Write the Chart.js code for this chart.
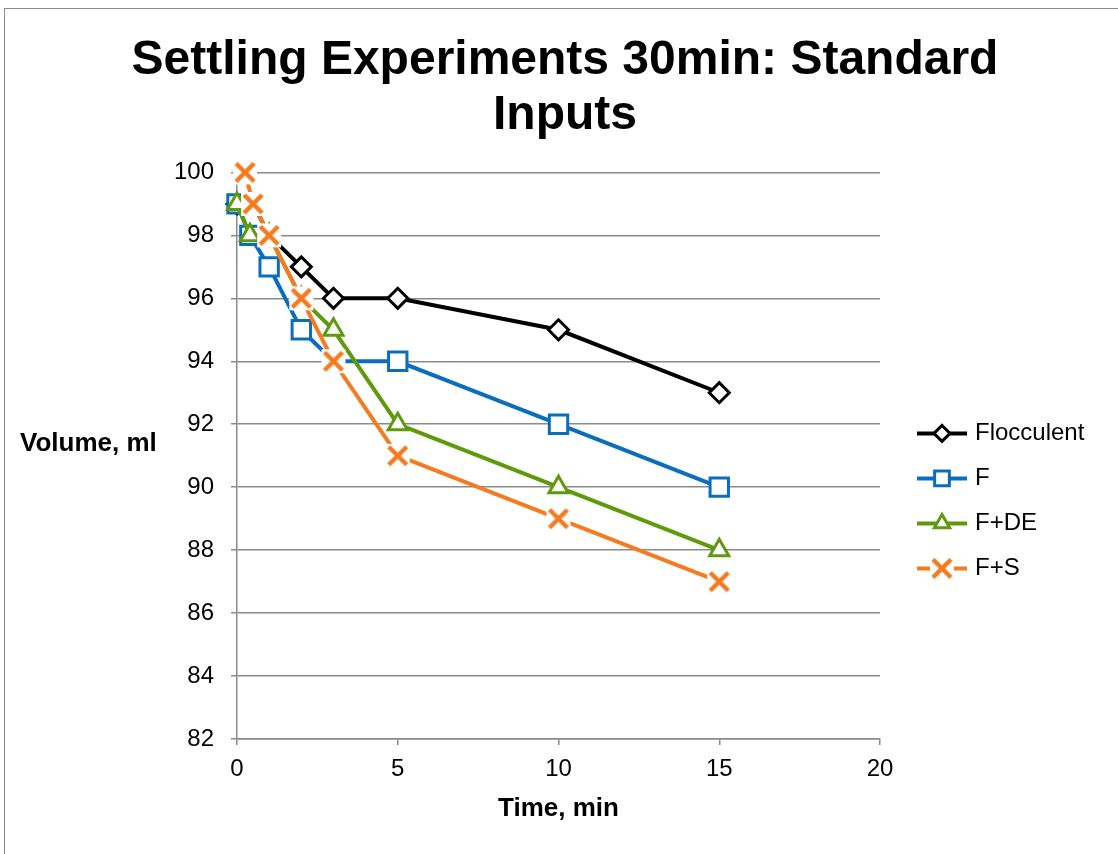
<!DOCTYPE html>
<html>
<head>
<meta charset="utf-8">
<script src="https://cdn.jsdelivr.net/npm/chart.js@4/dist/chart.umd.min.js"></script>
<style>
  html, body { margin: 0; padding: 0; background: #fff; }
  #wrap { width: 1118px; height: 854px; position: relative; }
</style>
</head>
<body>
<div id="wrap"><canvas id="chart" width="1118" height="854"></canvas></div>
<script>
// --- DATA ---
const seriesNames = ['Flocculent', 'F', 'F+DE', 'F+S'];
const floccTime = [0, 0.5, 1, 2, 3, 5, 10, 15];
const floccVolume = [99, 99, 98, 97, 96, 96, 95, 93];
const fTime = [0, 0.4, 1, 2, 3, 5, 10, 15];
const fVolume = [99, 98, 97, 95, 94, 94, 92, 90];
const fdeTime = [0, 0.4, 1, 2, 3, 5, 10, 15];
const fdeVolume = [99, 98, 98, 96, 95, 92, 90, 88];
const fsTime = [0.25, 0.5, 1, 2, 3, 5, 10, 15];
const fsVolume = [100, 99, 98, 96, 94, 91, 89, 87];
const xTicks = [0, 5, 10, 15, 20];
const yTicks = [82, 84, 86, 88, 90, 92, 94, 96, 98, 100];

// --- STYLE ---
const FONT = '"Liberation Sans", Arial, sans-serif';
const colors = ['#000000', '#0A6EBD', '#5E9A0C', '#F47B20'];
const markerSizes = [10, 13, 11, 13];
const markerBorders = [3, 3, 3, 4];

// Excel-like "x" marker: cross on a small white square
function crossMarker(color, size) {
    const c = document.createElement('canvas');
    c.width = size; c.height = size;
    const g = c.getContext('2d');
    g.fillStyle = '#fff';
    g.fillRect(1, 1, size - 2, size - 2);
    g.strokeStyle = color;
    g.lineWidth = 4.5;
    g.beginPath();
    g.moveTo(4, 4); g.lineTo(size - 4, size - 4);
    g.moveTo(size - 4, 4); g.lineTo(4, size - 4);
    g.stroke();
    return c;
}
const markers = ['rectRot', 'rect', 'triangle', crossMarker(colors[3], 26)];

const times = [floccTime, fTime, fdeTime, fsTime];
const volumes = [floccVolume, fVolume, fdeVolume, fsVolume];

function toPoints(xs, ys) {
    return xs.map((x, i) => ({ x: x, y: ys[i] }));
}

const datasets = seriesNames.map((name, i) => ({
    label: name,
    data: toPoints(times[i], volumes[i]),
    showLine: true,
    clip: false,
    borderColor: colors[i],
    borderWidth: 4,
    pointStyle: markers[i],
    pointRadius: markerSizes[i],
    pointHoverRadius: markerSizes[i],
    pointBorderWidth: markerBorders[i],
    pointBackgroundColor: '#fff',
    pointBorderColor: colors[i],
    order: seriesNames.length - 1 - i
}));

// frame around the chart + horizontal y-axis title
const framePlugin = {
    id: 'frame',
    beforeDraw(chart) {
        const ctx = chart.ctx;
        ctx.save();
        ctx.fillStyle = '#fff';
        ctx.fillRect(0, 0, chart.width, chart.height);
        ctx.strokeStyle = '#8a8a8a';
        ctx.lineWidth = 1;
        ctx.strokeRect(4.5, 8.5, chart.width + 10, chart.height + 10);
        ctx.restore();
    },
    afterDraw(chart) {
        const ctx = chart.ctx;
        const area = chart.chartArea;
        ctx.save();
        ctx.font = 'bold 26px ' + FONT;
        ctx.fillStyle = '#000';
        ctx.textAlign = 'left';
        ctx.textBaseline = 'middle';
        ctx.fillText('Volume, ml', 20, (area.top + area.bottom) / 2 - 12);
        ctx.restore();
    }
};

// legend on the right: line + marker, then the series name
const sideLegend = {
    id: 'sideLegend',
    afterDraw(chart) {
        const ctx = chart.ctx;
        const area = chart.chartArea;
        const x0 = area.right + 37;
        ctx.save();
        chart.data.datasets.forEach((ds, i) => {
            const y = area.top + 261 + i * 45;
            ctx.strokeStyle = ds.borderColor;
            ctx.lineWidth = 4;
            ctx.beginPath();
            ctx.moveTo(x0, y);
            ctx.lineTo(x0 + 50, y);
            ctx.stroke();
            ctx.fillStyle = '#fff';
            ctx.lineWidth = ds.pointBorderWidth;
            Chart.helpers.drawPoint(ctx, {
                pointStyle: ds.pointStyle,
                radius: ds.pointRadius * 0.8,
                borderWidth: ds.pointBorderWidth,
                rotation: 0
            }, x0 + 25, y);
            ctx.fillStyle = '#000';
            ctx.font = '24px ' + FONT;
            ctx.textAlign = 'left';
            ctx.textBaseline = 'middle';
            ctx.fillText(ds.label, x0 + 58, y);
        });
        ctx.restore();
    }
};

new Chart(document.getElementById('chart'), {
    type: 'scatter',
    data: { datasets: datasets },
    options: {
        responsive: false,
        animation: false,
        layout: { padding: { left: 12, right: 0, top: 0, bottom: 0 } },
        plugins: {
            tooltip: { enabled: false },
            legend: { display: false },
            title: {
                display: true,
                text: ['Settling Experiments 30min: Standard', 'Inputs'],
                color: '#000',
                font: { family: FONT, size: 48, weight: 'bold', lineHeight: 1.15 },
                padding: { top: 33, bottom: 29 }
            }
        },
        scales: {
            x: {
                type: 'linear',
                min: 0,
                max: 20,
                afterBuildTicks: s => { s.ticks = xTicks.map(v => ({ value: v })); },
                afterFit: s => { s.height = 115; },
                grid: { drawOnChartArea: false, drawTicks: true, tickLength: 6, color: '#8a8a8a', lineWidth: 1.5 },
                border: { color: '#8a8a8a', width: 1.5 },
                ticks: { color: '#000', padding: 10, font: { family: FONT, size: 24 }, maxRotation: 0 },
                title: {
                    display: true,
                    text: 'Time, min',
                    color: '#000',
                    font: { family: FONT, size: 26, weight: 'bold' },
                    padding: { top: 4, bottom: 30 }
                }
            },
            y: {
                type: 'linear',
                min: 82,
                max: 100,
                afterBuildTicks: s => { s.ticks = yTicks.map(v => ({ value: v })); },
                afterFit: s => { s.width = 225; },
                grid: { color: '#8a8a8a', lineWidth: 1.5, tickLength: 6 },
                border: { color: '#8a8a8a', width: 1.5 },
                ticks: { color: '#000', padding: 17, font: { family: FONT, size: 24 } }
            },
            pad: {
                type: 'linear',
                position: 'right',
                display: true,
                afterFit: s => { s.width = 238; },
                grid: { display: false, drawTicks: false },
                border: { display: false },
                ticks: { display: false }
            }
        }
    },
    plugins: [framePlugin, sideLegend]
});
</script>
</body>
</html>
